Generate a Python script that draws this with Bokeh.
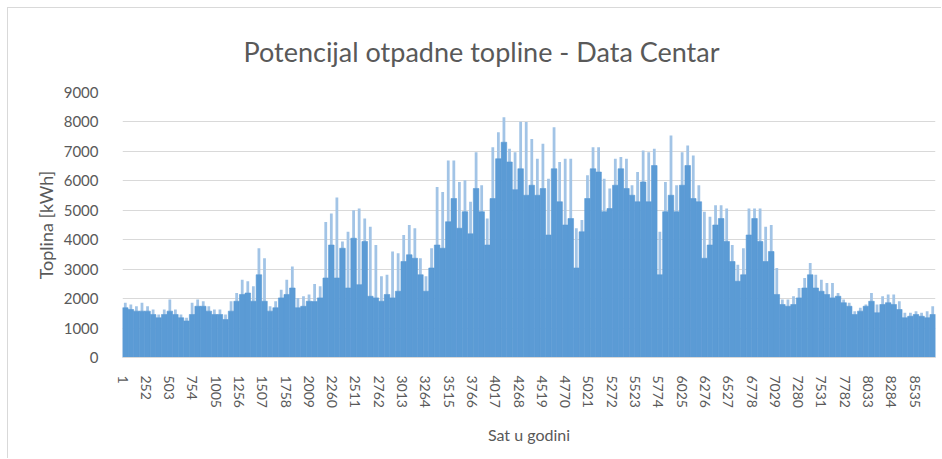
from bokeh.plotting import figure
from bokeh.models import Range1d, FixedTicker, ColumnDataSource, Title
from bokeh.embed import file_html
from bokeh.resources import INLINE

# --- data (hourly series summarised in 60-hour bins) ---
hours_per_bin = 60
total_hours = 8760

# solid body of the columns in each bin (kWh)
bin_low = [
    1690, 1630, 1575, 1575, 1575, 1460, 1350, 1460, 1575, 1460,
    1350, 1240, 1460, 1740, 1740, 1575, 1460, 1460, 1290, 1575,
    1910, 2140, 2190, 1910, 2810, 1910, 1575, 1690, 2025, 2140,
    2360, 1690, 1740, 1910, 1900, 2025, 2700, 3820, 2700, 3710,
    2360, 4050, 2475, 3940, 2080, 2025, 1910, 2140, 2025, 2250,
    3260, 3490, 3370, 2810, 2250, 3040, 3820, 3710, 4610, 5400,
    4390, 4950, 4200, 5740, 4950, 3820, 5400, 6750, 7310, 6640,
    5700, 6410, 5510, 5850, 5510, 5740, 4160, 6410, 5290, 4500,
    4720, 3040, 4270, 5400, 6410, 6300, 4950, 5060, 5850, 6410,
    5740, 5510, 5290, 5960, 5290, 6520, 2810, 4950, 5510, 4950,
    5850, 6520, 5400, 5290, 3370, 3820, 4500, 4720, 3940, 3260,
    2590, 2810, 4160, 4720, 3940, 3260, 3600, 2140, 1800, 1740,
    1800, 2025, 2360, 2810, 2360, 2250, 2140, 2025, 2080, 1860,
    1740, 1460, 1575, 1740, 1910, 1520, 1800, 1860, 1800, 1630,
    1350, 1400, 1460, 1400, 1350, 1460,
]

# peak hourly value reached inside each bin (kWh)
bin_high = [
    1860, 1800, 1740, 1860, 1740, 1630, 1460, 1630, 1970, 1630,
    1460, 1350, 1860, 1970, 1910, 1740, 1630, 1630, 1460, 1910,
    2190, 2640, 2590, 2420, 3710, 3370, 1740, 1910, 2300, 2640,
    3090, 2025, 2080, 2140, 2500, 2420, 4600, 4890, 5430, 3940,
    4270, 5000, 5060, 4720, 4440, 3820, 2760, 2810, 3600, 3540,
    4160, 4500, 4390, 3370, 2760, 3710, 5790, 5620, 6690, 6690,
    5960, 6020, 5290, 6970, 5850, 4720, 7140, 7650, 8160, 7090,
    6970, 8010, 8000, 7420, 6750, 7260, 6070, 7820, 6640, 6750,
    6750, 4390, 4670, 6190, 7140, 7140, 6070, 5740, 6750, 6810,
    6750, 5850, 6300, 7030, 6970, 7090, 4270, 5960, 7540, 5850,
    6970, 7200, 6860, 5850, 4950, 4780, 5170, 5170, 5060, 3820,
    3150, 3710, 5060, 5060, 5060, 4440, 4500, 3040, 1970, 1970,
    2080, 2360, 2700, 3210, 2810, 2640, 2530, 2530, 2190, 1970,
    1860, 1575, 1690, 1800, 2190, 1800, 2080, 2140, 2140, 1910,
    1520, 1520, 1575, 1520, 1575, 1740,
]

x_tick_labels = [1, 252, 503, 754, 1005, 1256, 1507, 1758, 2009, 2260,
                 2511, 2762, 3013, 3264, 3515, 3766, 4017, 4268, 4519, 4770,
                 5021, 5272, 5523, 5774, 6025, 6276, 6527, 6778, 7029, 7280,
                 7531, 7782, 8033, 8284, 8535]
y_ticks = [0, 1000, 2000, 3000, 4000, 5000, 6000, 7000, 8000, 9000]

title_text = "Potencijal otpadne topline - Data Centar"
x_title = "Sat u godini"
y_title = "Toplina [kWh]"

# --- styling ---
FONT = "Lato"
TXT = "#595959"
BAR = "#5B9BD5"
SPIKE = "#A2C4E6"
GRID = "#D9D9D9"

centers = [i * hours_per_bin + hours_per_bin / 2 + 0.5 for i in range(len(bin_low))]
src = ColumnDataSource(dict(x=centers, low=bin_low, high=bin_high))

p = figure(
    width=934, height=451,
    x_range=Range1d(0.5, total_hours + 0.5),
    y_range=Range1d(0, 9000),
    output_backend="svg", toolbar_location=None,
    min_border_left=114, min_border_right=7,
    min_border_top=5, min_border_bottom=102,
)
p.styles = {"border-left": "1px solid #D9D9D9", "border-top": "1px solid #D9D9D9",
            "margin-top": "7px", "margin-left": "7px"}
p.outline_line_color = None
p.background_fill_color = "white"
p.border_fill_color = "white"

p.vbar(x="x", top="high", bottom=0, width=hours_per_bin * 0.5, source=src,
       fill_color=SPIKE, line_color=None)
p.vbar(x="x", top="low", bottom=0, width=hours_per_bin, source=src,
       fill_color=BAR, line_color=BAR, line_width=0.6)

# axes
p.xaxis.ticker = FixedTicker(ticks=x_tick_labels)
p.xaxis.major_label_orientation = "vertical"
p.xaxis.major_tick_line_color = None
p.xaxis.minor_tick_line_color = None
p.xaxis.axis_line_color = GRID
p.xaxis.major_label_text_font = FONT
p.xaxis.major_label_text_font_size = "14px"
p.xaxis.major_label_text_color = TXT
p.xaxis.major_label_standoff = 12
p.xaxis.axis_label = x_title
p.xaxis.axis_label_text_font = FONT
p.xaxis.axis_label_text_font_style = "normal"
p.xaxis.axis_label_text_font_size = "16px"
p.xaxis.axis_label_text_color = TXT
p.xaxis.axis_label_standoff = 14

p.yaxis.ticker = FixedTicker(ticks=y_ticks)
p.yaxis.major_tick_line_color = None
p.yaxis.minor_tick_line_color = None
p.yaxis.axis_line_color = None
p.yaxis.major_label_text_font = FONT
p.yaxis.major_label_text_font_size = "15px"
p.yaxis.major_label_text_color = TXT
p.yaxis.major_label_standoff = 18
p.yaxis.axis_label = y_title
p.yaxis.axis_label_text_font = FONT
p.yaxis.axis_label_text_font_style = "normal"
p.yaxis.axis_label_text_font_size = "18px"
p.yaxis.axis_label_text_color = TXT
p.yaxis.axis_label_standoff = 4

p.xgrid.grid_line_color = None
p.ygrid.ticker = FixedTicker(ticks=y_ticks)
p.ygrid.grid_line_color = GRID
p.ygrid.grid_line_width = 1

# chart title
p.add_layout(Title(text=title_text, align="left", offset=121, standoff=49,
                   text_font=FONT, text_font_size="27px", text_font_style="normal",
                   text_color=TXT), "above")

open("out.html", "w").write(file_html(p, INLINE))
